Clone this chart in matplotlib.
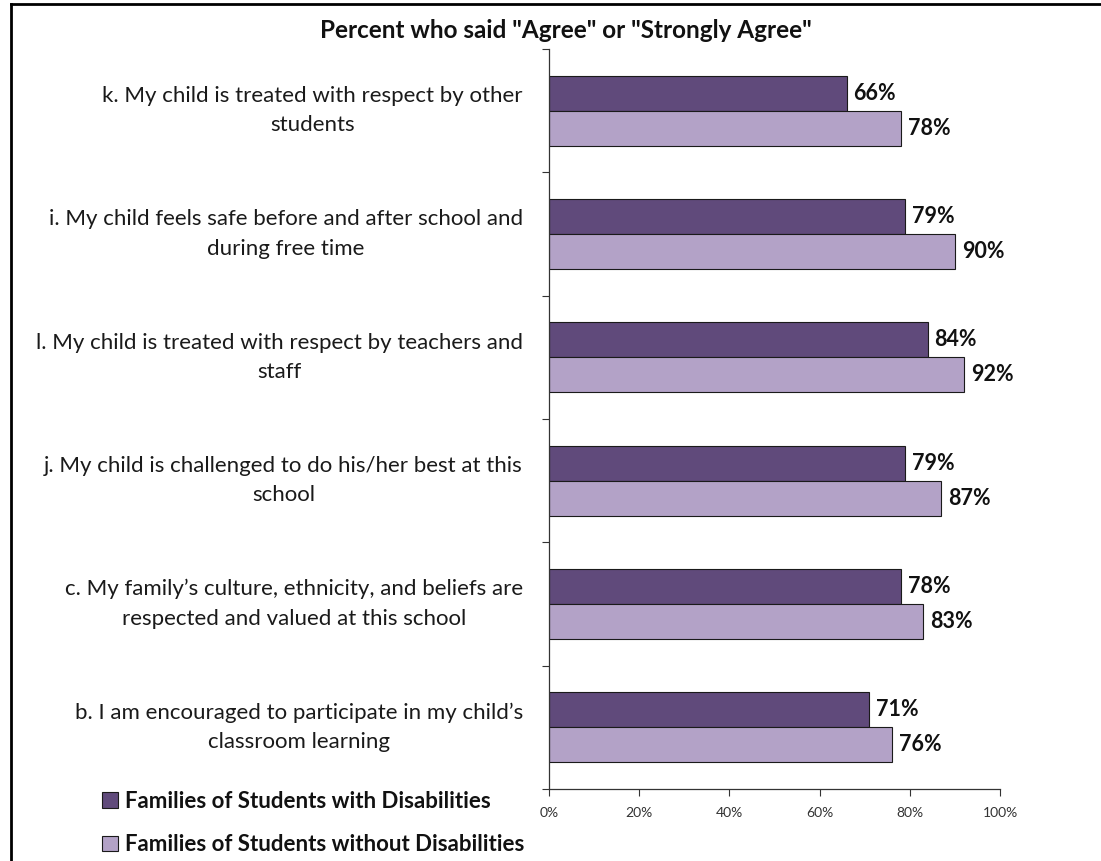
import numpy as np
import matplotlib.pyplot as plt
from matplotlib.lines import Line2D
from matplotlib.patches import Patch

plt.rcParams['font.family'] = ['Lato', 'DejaVu Sans']

# survey items, top to bottom
items = [
    "k. My child is treated with respect by other\nstudents",
    "i. My child feels safe before and after school and\nduring free time",
    "l. My child is treated with respect by teachers and\nstaff",
    "j. My child is challenged to do his/her best at this\nschool",
    "c. My family\u2019s culture, ethnicity, and beliefs are\nrespected and valued at this school",
    "b. I am encouraged to participate in my child\u2019s\nclassroom learning",
]
with_dis = [66, 79, 84, 79, 78, 71]
without_dis = [78, 90, 92, 87, 83, 76]
series_names = ["Families of Students with Disabilities",
                "Families of Students without Disabilities"]
xticks = [0, 20, 40, 60, 80, 100]

dark = '#604a7b'
light = '#b3a2c7'

fig = plt.figure(figsize=(11.01, 8.61), dpi=100)
ax = fig.add_axes([549 / 1101, 1 - 789 / 861, (1000 - 549) / 1101, (789 - 49) / 861])

y = np.arange(len(items))
h = 0.284
ax.barh(y - h / 2, with_dis, height=h, color=dark, edgecolor='#1a1a1a', linewidth=0.8)
ax.barh(y + h / 2, without_dis, height=h, color=light, edgecolor='#1a1a1a', linewidth=0.8)

for yi, v in zip(y, with_dis):
    ax.text(v + 1.5, yi - h / 2, f"{v}%", va='center', ha='left',
            fontsize=15.5, fontweight='bold', color='#111111')
for yi, v in zip(y, without_dis):
    ax.text(v + 1.5, yi + h / 2, f"{v}%", va='center', ha='left',
            fontsize=15.5, fontweight='bold', color='#111111')

ax.set_xlim(0, 100)
ax.set_ylim(len(items) - 0.5, -0.5)

# category labels, drawn as text so wrapped lines stay centered
ax.set_yticks(np.arange(len(items) + 1) - 0.5)
ax.set_yticklabels([])
for yi, lab in zip(y, items):
    ax.text(-0.058, yi, lab, transform=ax.get_yaxis_transform(), ha='right',
            va='center', multialignment='center', fontsize=16,
            color='#1a1a1a', linespacing=1.6)

ax.set_xticks(xticks)
ax.set_xticklabels([f"{t}%" for t in xticks], fontsize=10, color='#333333')
ax.tick_params(axis='both', direction='out', length=5, width=0.8, color='#333333')
ax.tick_params(axis='x', pad=8)
for s in ['top', 'right']:
    ax.spines[s].set_visible(False)
for s in ['left', 'bottom']:
    ax.spines[s].set_color('#333333')
    ax.spines[s].set_linewidth(0.9)

fig.text(566 / 1101, 1 - 30 / 861, 'Percent who said "Agree" or "Strongly Agree"',
         ha='center', va='center', fontsize=17.5, fontweight='bold', color='#111111')

handles = [Patch(facecolor=dark, edgecolor='#1a1a1a', linewidth=0.8),
           Patch(facecolor=light, edgecolor='#1a1a1a', linewidth=0.8)]
leg = fig.legend(handles, series_names, loc='upper left',
                 bbox_to_anchor=(82 / 1101, 1 - 771 / 861), frameon=False,
                 prop={'size': 16, 'weight': 'bold'}, handlelength=0.7,
                 handleheight=0.7, handletextpad=0.35, labelspacing=1.0)
for t in leg.get_texts():
    t.set_color('#111111')

# frame lines along the top and left edge
fig.add_artist(Line2D([11 / 1101, 1], [1 - 3.5 / 861, 1 - 3.5 / 861],
                      transform=fig.transFigure, color='black', linewidth=2))
fig.add_artist(Line2D([11 / 1101, 11 / 1101], [0, 1 - 3.5 / 861],
                      transform=fig.transFigure, color='black', linewidth=2))

fig.savefig('out.png', dpi=100)
